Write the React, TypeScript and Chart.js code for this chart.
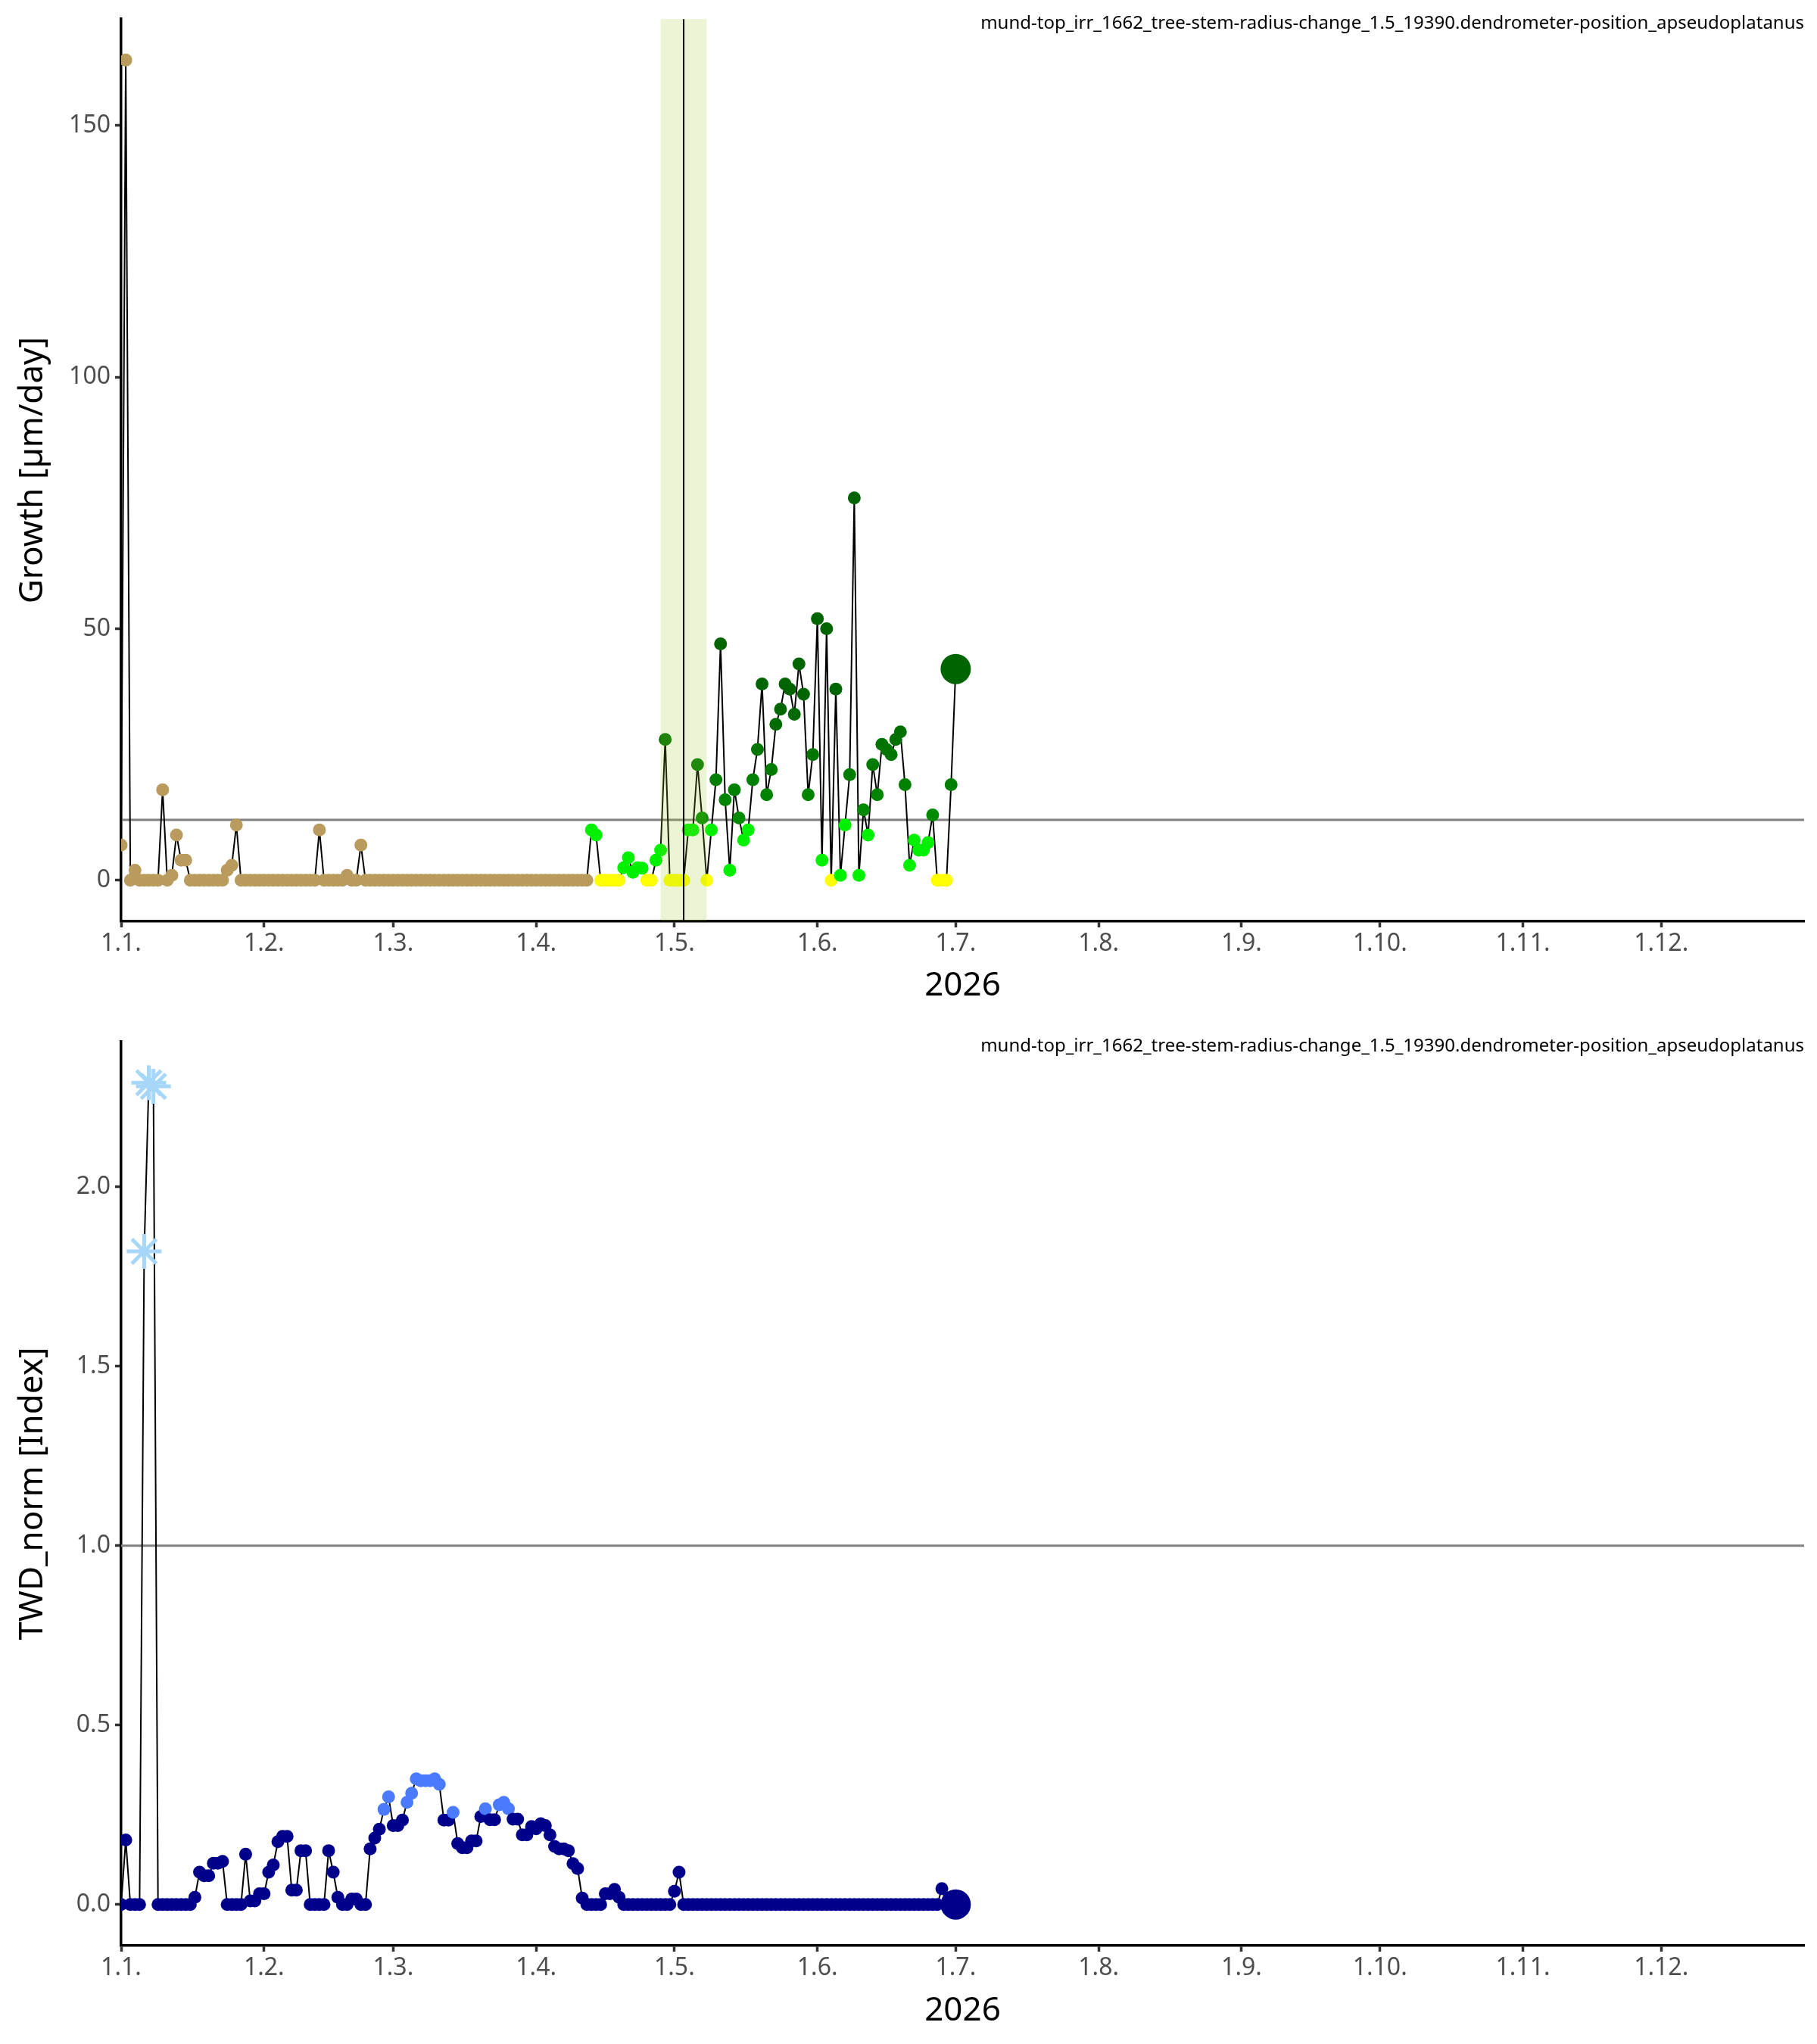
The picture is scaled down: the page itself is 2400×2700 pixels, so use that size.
import React, { useEffect, useRef } from "react";
import { Chart, registerables } from "chart.js";

Chart.register(...registerables);

const LABEL =
  "mund-top_irr_1662_tree-stem-radius-change_1.5_19390.dendrometer-position_apseudoplatanus";

// month starts of 2026 as day of year (0 = 1 Jan)
const monthStarts = [0, 31, 59, 90, 120, 151, 181, 212, 243, 273, 304, 334];
const monthLabels = ["1.1.", "1.2.", "1.3.", "1.4.", "1.5.", "1.6.", "1.7.", "1.8.", "1.9.", "1.10.", "1.11.", "1.12."];

// daily growth [µm/day], one value per day from 1 Jan
const growth = [
  7, 163, 0, 2, 0, 0, 0, 0, 0, 18,
  0, 1, 9, 4, 4, 0, 0, 0, 0, 0,
  0, 0, 0, 2, 3, 11, 0, 0, 0, 0,
  0, 0, 0, 0, 0, 0, 0, 0, 0, 0,
  0, 0, 0, 10, 0, 0, 0, 0, 0, 1,
  0, 0, 7, 0, 0, 0, 0, 0, 0, 0,
  0, 0, 0, 0, 0, 0, 0, 0, 0, 0,
  0, 0, 0, 0, 0, 0, 0, 0, 0, 0,
  0, 0, 0, 0, 0, 0, 0, 0, 0, 0,
  0, 0, 0, 0, 0, 0, 0, 0, 0, 0,
  0, 0, 10, 9, 0, 0, 0, 0, 0, 2.5,
  4.5, 1.6, 2.5, 2.4, 0, 0, 4, 6, 28, 0,
  0, 0, 0, 10, 10, 23, 12.4, 0, 10, 20,
  47, 16, 2, 18, 12.4, 8, 10, 20, 26, 39,
  17, 22, 31, 34, 39, 38, 33, 43, 37, 17,
  25, 52, 4, 50, 0, 38, 1, 11, 21, 76,
  1, 14, 9, 23, 17, 27, 26, 25, 28, 29.5,
  19, 3, 8, 6, 6, 7.5, 13, 0, 0, 0,
  19, 42,
];

// daily normalised tree water deficit, one value per day from 1 Jan
const twdNorm = [
  0, 0.18, 0, 0, 0, 1.82, 2.29, 2.28, 0, 0,
  0, 0, 0, 0, 0, 0, 0.02, 0.09, 0.08, 0.08,
  0.115, 0.115, 0.12, 0, 0, 0, 0, 0.14, 0.01, 0.01,
  0.03, 0.03, 0.09, 0.11, 0.175, 0.19, 0.19, 0.04, 0.04, 0.15,
  0.15, 0, 0, 0, 0, 0.15, 0.09, 0.02, 0, 0,
  0.015, 0.015, 0, 0, 0.155, 0.185, 0.21, 0.265, 0.3, 0.22,
  0.22, 0.235, 0.285, 0.31, 0.35, 0.345, 0.345, 0.345, 0.35, 0.335,
  0.235, 0.235, 0.257, 0.17, 0.158, 0.158, 0.177, 0.177, 0.245, 0.267,
  0.236, 0.236, 0.278, 0.285, 0.267, 0.238, 0.238, 0.194, 0.194, 0.217,
  0.211, 0.225, 0.22, 0.194, 0.162, 0.155, 0.155, 0.15, 0.114, 0.1,
  0.018, 0, 0, 0, 0, 0.03, 0.03, 0.042, 0.02, 0,
  0, 0, 0, 0, 0, 0, 0, 0, 0, 0,
  0.037, 0.09, 0, 0, 0, 0, 0, 0, 0, 0,
  0, 0, 0, 0, 0, 0, 0, 0, 0, 0,
  0, 0, 0, 0, 0, 0, 0, 0, 0, 0,
  0, 0, 0, 0, 0, 0, 0, 0, 0, 0,
  0, 0, 0, 0, 0, 0, 0, 0, 0, 0,
  0, 0, 0, 0, 0, 0, 0, 0, 0.044, 0,
  0, 0,
];

const growthThreshold = 12;
const twdThreshold = 1;
const seasonStartDay = 102; // growing season start
const markerDay = 122; // 3 May
const markerWindow = [117, 127];

const growthTicks = [0, 50, 100, 150];
const twdTicks = [0, 0.5, 1, 1.5, 2];

const FONT = "'Noto Sans', 'Open Sans', sans-serif";

function growthColor(v: number, i: number) {
  if (i < seasonStartDay) return "#B99B5E";
  if (v <= 0) return "#FFFF00";
  if (v < growthThreshold) return "#00F000";
  const t = Math.min((v - growthThreshold) / 24, 1);
  return `rgb(0, ${Math.round(140 - 40 * t)}, 0)`;
}

function twdColor(v: number) {
  if (v > twdThreshold) return "#A6D6F8";
  if (v >= 0.25) return "#4A7BFF";
  return "#00008B";
}

const decorations = {
  id: "decorations",
  beforeDatasetsDraw(chart: any, _a: any, opts: any) {
    const { ctx, chartArea, scales } = chart;
    const y = scales.y.getPixelForValue(opts.threshold);
    ctx.save();
    ctx.strokeStyle = "#808080";
    ctx.lineWidth = 3;
    ctx.beginPath();
    ctx.moveTo(chartArea.left, y);
    ctx.lineTo(chartArea.right, y);
    ctx.stroke();
    ctx.restore();
  },
  afterDatasetsDraw(chart: any, _a: any, opts: any) {
    const { ctx, chartArea, scales } = chart;
    ctx.save();
    if (opts.band) {
      const x1 = scales.x.getPixelForValue(opts.band[0]);
      const x2 = scales.x.getPixelForValue(opts.band[1]);
      ctx.fillStyle = "rgba(154, 205, 50, 0.2)";
      ctx.fillRect(x1, chartArea.top, x2 - x1, chartArea.bottom - chartArea.top);
    }
    if (opts.marker != null) {
      const x = scales.x.getPixelForValue(opts.marker);
      ctx.strokeStyle = "#000";
      ctx.lineWidth = 2;
      ctx.beginPath();
      ctx.moveTo(x, chartArea.top);
      ctx.lineTo(x, chartArea.bottom);
      ctx.stroke();
    }
    ctx.restore();
  },
  afterDraw(chart: any) {
    const { ctx, chartArea } = chart;
    ctx.save();
    ctx.font = `24px ${FONT}`;
    ctx.fillStyle = "#000";
    ctx.textAlign = "right";
    ctx.textBaseline = "middle";
    ctx.fillText(LABEL, chartArea.right, chartArea.top + 6);
    ctx.restore();
  },
};

interface PanelProps {
  values: number[];
  colors: string[];
  styles: string[];
  yMin: number;
  yMax: number;
  yTicks: number[];
  yFormat: (v: number) => string;
  yTitle: string;
  threshold: number;
  plotTop: number;
  xHeight: number;
  xTitlePad: number;
  starRadius?: number;
  band?: number[];
  marker?: number;
}

function Panel(p: PanelProps) {
  const canvasRef = useRef<HTMLCanvasElement | null>(null);

  useEffect(() => {
    if (!canvasRef.current) return;
    const last = p.values.length - 1;
    const radii = p.values.map((v, i) =>
      i === last ? 20 : p.styles[i] === "star" ? p.starRadius ?? 22 : 8.5
    );
    const chart = new Chart(canvasRef.current, {
      type: "line",
      data: {
        datasets: [
          {
            data: p.values.map((v, i) => ({ x: i, y: v })),
            borderColor: "#000",
            borderWidth: 2,
            tension: 0,
            pointBackgroundColor: p.colors,
            pointBorderColor: p.colors,
            pointBorderWidth: p.styles.map((s) => (s === "star" ? 5 : 0)),
            pointStyle: p.styles as any,
            pointRadius: radii,
          },
        ],
      },
      options: {
        animation: false,
        responsive: false,
        devicePixelRatio: 1,
        events: [],
        layout: { padding: { top: p.plotTop, right: 17, left: 0, bottom: 0 }, autoPadding: false },
        plugins: {
          legend: { display: false },
          tooltip: { enabled: false },
          decorations: { threshold: p.threshold, band: p.band, marker: p.marker },
        } as any,
        scales: {
          x: {
            type: "linear",
            min: 0,
            max: 365,
            z: 1,
            afterFit: (s: any) => {
              s.height = p.xHeight;
            },
            afterBuildTicks: (s: any) => {
              s.ticks = monthStarts.map((v) => ({ value: v }));
            },
            grid: { drawOnChartArea: false, drawTicks: true, tickLength: 8, tickWidth: 3.5, tickColor: "#333" },
            border: { display: true, color: "#000", width: 3.5 },
            ticks: {
              autoSkip: false,
              maxRotation: 0,
              padding: 3,
              color: "#4D4D4D",
              font: { family: FONT, size: 32 },
              callback: (v: any) => monthLabels[monthStarts.indexOf(Number(v))],
            },
            title: {
              display: true,
              text: "2026",
              color: "#000",
              font: { family: FONT, size: 44 },
              padding: { top: 0, bottom: p.xTitlePad },
            },
          },
          y: {
            type: "linear",
            min: p.yMin,
            max: p.yMax,
            z: 1,
            afterFit: (s: any) => {
              s.width = 160;
            },
            afterBuildTicks: (s: any) => {
              s.ticks = p.yTicks.map((v) => ({ value: v }));
            },
            grid: { drawOnChartArea: false, drawTicks: true, tickLength: 8, tickWidth: 3.5, tickColor: "#333" },
            border: { display: true, color: "#000", width: 3.5 },
            ticks: {
              padding: 6,
              color: "#4D4D4D",
              font: { family: FONT, size: 32 },
              callback: (v: any) => p.yFormat(Number(v)),
            },
            title: {
              display: true,
              text: p.yTitle,
              color: "#000",
              font: { family: FONT, size: 44 },
              padding: { top: 17, bottom: 0 },
            },
          },
        },
      },
      plugins: [decorations as any],
    });
    return () => chart.destroy();
  }, []);

  return <canvas ref={canvasRef} width={2400} height={1350} style={{ display: "block", width: 2400, height: 1350 }} />;
}

export default function App() {
  const growthColors = growth.map((v, i) => growthColor(v, i));
  const growthStyles = growth.map(() => "circle");
  const twdColors = twdNorm.map((v) => twdColor(v));
  const twdStyles = twdNorm.map((v) => (v > twdThreshold ? "star" : "circle"));

  return (
    <div style={{ position: "absolute", left: 0, top: 0, width: 2400, height: 2700, background: "#fff" }}>
      <Panel
        values={growth}
        colors={growthColors}
        styles={growthStyles}
        yMin={-8.15}
        yMax={171.15}
        yTicks={growthTicks}
        yFormat={(v) => String(v)}
        yTitle="Growth [µm/day]"
        threshold={growthThreshold}
        plotTop={24}
        xHeight={133}
        xTitlePad={21}
        band={markerWindow}
        marker={markerDay}
      />
      <Panel
        values={twdNorm}
        colors={twdColors}
        styles={twdStyles}
        yMin={-0.1145}
        yMax={2.4045}
        yTicks={twdTicks}
        yFormat={(v) => v.toFixed(1)}
        yTitle="TWD_norm [Index]"
        threshold={twdThreshold}
        plotTop={26}
        xHeight={130}
        xTitlePad={17}
        starRadius={23}
      />
    </div>
  );
}
